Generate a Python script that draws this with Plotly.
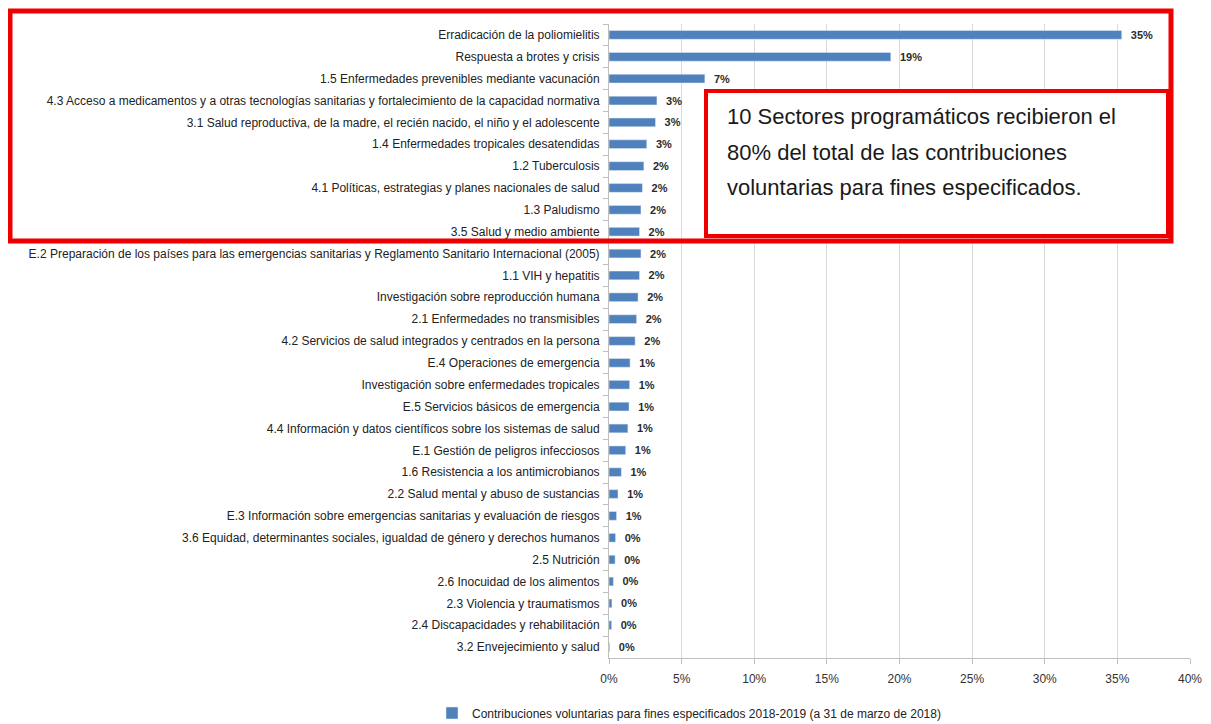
import plotly.graph_objects as go

categories = [
    "Erradicación de la poliomielitis",
    "Respuesta a brotes y crisis",
    "1.5 Enfermedades prevenibles mediante vacunación",
    "4.3 Acceso a medicamentos y a otras tecnologías sanitarias y fortalecimiento de la capacidad normativa",
    "3.1 Salud reproductiva, de la madre, el recién nacido, el niño y el adolescente",
    "1.4 Enfermedades tropicales desatendidas",
    "1.2 Tuberculosis",
    "4.1 Políticas, estrategias y planes nacionales de salud",
    "1.3 Paludismo",
    "3.5 Salud y medio ambiente",
    "E.2 Preparación de los países para las emergencias sanitarias y Reglamento Sanitario Internacional (2005)",
    "1.1 VIH y hepatitis",
    "Investigación sobre reproducción humana",
    "2.1 Enfermedades no transmisibles",
    "4.2 Servicios de salud integrados y centrados en la persona",
    "E.4 Operaciones de emergencia",
    "Investigación sobre enfermedades tropicales",
    "E.5 Servicios básicos de emergencia",
    "4.4 Información y datos científicos sobre los sistemas de salud",
    "E.1 Gestión de peligros infecciosos",
    "1.6 Resistencia a los antimicrobianos",
    "2.2 Salud mental y abuso de sustancias",
    "E.3 Información sobre emergencias sanitarias y evaluación de riesgos",
    "3.6 Equidad, determinantes sociales, igualdad de género y derechos humanos",
    "2.5 Nutrición",
    "2.6 Inocuidad de los alimentos",
    "2.3 Violencia y traumatismos",
    "2.4 Discapacidades y rehabilitación",
    "3.2 Envejecimiento y salud",
]

values = [0.353, 0.194, 0.066, 0.033, 0.032, 0.026, 0.024, 0.023, 0.022, 0.021,
          0.022, 0.021, 0.020, 0.019, 0.018, 0.0145, 0.0142, 0.0138, 0.013, 0.0115,
          0.0085, 0.0062, 0.0052, 0.0045, 0.0042, 0.003, 0.002, 0.0018, 0.0005]

series_name = "Contribuciones voluntarias para fines especificados 2018-2019 (a 31 de marzo de 2018)"
x_ticks = [0, 0.05, 0.10, 0.15, 0.20, 0.25, 0.30, 0.35, 0.40]
note_lines = [
    "10 Sectores programáticos recibieron el",
    "80% del total de las contribuciones",
    "voluntarias para fines especificados.",
]

FONT = "Liberation Sans, Arial, sans-serif"

# page has an 8px body margin; work in reference pixel coords and shift
OFF = 8
W, H = 1211 - OFF, 724 - OFF
L, R, T, B = 609 - OFF, 21, 24 - OFF, 66
pw, ph = W - L - R, H - T - B

def px(x):
    return (x - OFF - L) / pw

def py(y):
    return (H - B - (y - OFF)) / ph

fig = go.Figure()
fig.add_trace(go.Bar(
    y=categories, x=values, orientation="h",
    name=series_name,
    marker=dict(color="#4F81BD"),
    texttemplate="\u00a0\u00a0%{x:.0%}", textposition="outside",
    textfont=dict(family=FONT, size=11, color="#2b2b2b", weight="bold"),
    constraintext="none",
    cliponaxis=False,
    showlegend=True,
))

fig.update_layout(
    width=W, height=H,
    margin=dict(l=L, r=R, t=T, b=B, autoexpand=False),
    paper_bgcolor="white", plot_bgcolor="white",
    bargap=0.6,
    showlegend=True,
    legend=dict(orientation="h", x=px(432), xanchor="left", y=py(713), yanchor="middle",
                font=dict(family=FONT, size=12, color="#222222"),
                itemwidth=30),
    xaxis=dict(range=[0, 0.40], tickvals=x_ticks, tickformat=".0%",
               showgrid=True, gridcolor="#D9D9D9", gridwidth=1,
               showline=True, linecolor="#BFBFBF", ticks="outside", tickcolor="#BFBFBF", ticklen=5,
               ticklabelstandoff=5,
               tickfont=dict(family=FONT, size=12, color="#333333"), zeroline=False),
    yaxis=dict(autorange="reversed", showline=True, linecolor="#BFBFBF",
               ticks="outside", tickson="boundaries", tickcolor="#BFBFBF", ticklen=5,
               ticklabelstandoff=6,
               tickfont=dict(family=FONT, size=12, color="#222222"), showgrid=False),
)

# Outer red frame
fig.add_shape(type="rect", xref="paper", yref="paper",
              x0=px(10), x1=px(1171), y0=py(241), y1=py(11),
              line=dict(color="#EE0000", width=5), fillcolor="rgba(0,0,0,0)", layer="above")
# Inner note box
fig.add_shape(type="rect", xref="paper", yref="paper",
              x0=px(706), x1=px(1168), y0=py(236), y1=py(91),
              line=dict(color="#EE0000", width=4), fillcolor="white", layer="above")

for i, line in enumerate(note_lines):
    fig.add_annotation(xref="paper", yref="paper", x=px(725), y=py(117 + i * 35.5),
                       xanchor="left", yanchor="middle", showarrow=False, text=line,
                       font=dict(family=FONT, size=22, color="#1a1a1a"))

fig.write_html("out.html")
